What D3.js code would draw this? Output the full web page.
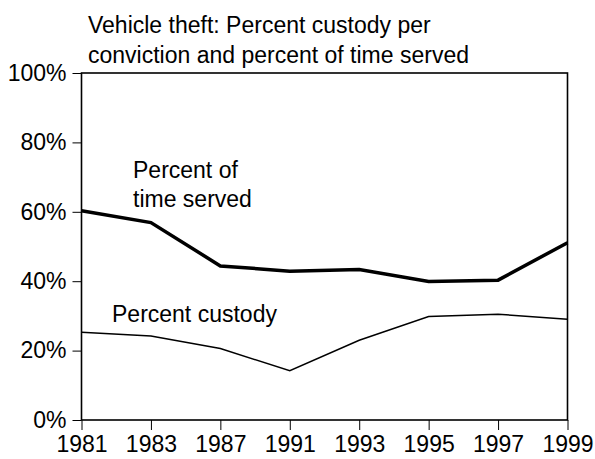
<!DOCTYPE html>
<html>
<head>
<meta charset="utf-8">
<script src="https://cdn.jsdelivr.net/npm/d3@7"></script>
<style>
  body { margin: 0; background: #fff; }
  text { font-family: "Liberation Sans", Arial, sans-serif; fill: #000; }
</style>
</head>
<body>
<div id="chart"></div>
<script>
var w = 595;
var h = 459;

var years = ["1981", "1983", "1987", "1991", "1993", "1995", "1997", "1999"];
var timeServed = [60.3, 56.9, 44.4, 42.9, 43.4, 39.9, 40.3, 51.1];
var custody = [25.3, 24.2, 20.6, 14.2, 23.0, 29.8, 30.5, 29.0];
var yTicks = [0, 20, 40, 60, 80, 100];

var plotLeft = 81.5, plotRight = 567.5, plotTop = 73, plotBottom = 420;
var fontSize = "23px";

var svg = d3.select("#chart")
  .append("svg")
  .attr("width", w)
  .attr("height", h);

// Scales
var xScale = d3.scalePoint()
  .domain(years)
  .range([plotLeft, plotRight]);

var yScale = d3.scaleLinear()
  .domain([0, 100])
  .range([plotBottom, plotTop]);

// Title
svg.append("text")
  .attr("x", 88).attr("y", 33)
  .style("font-size", fontSize)
  .text("Vehicle theft: Percent custody per");
svg.append("text")
  .attr("x", 88).attr("y", 63)
  .style("font-size", fontSize)
  .text("conviction and percent of time served");

// Axes
var yAxis = d3.axisLeft(yScale)
  .tickValues(yTicks)
  .tickSize(9)
  .tickPadding(6)
  .tickFormat(function (d) { return d + "%"; });

var xAxis = d3.axisBottom(xScale)
  .tickSize(10)
  .tickPadding(6);

var gy = svg.append("g")
  .attr("transform", "translate(" + plotLeft + ",0)")
  .call(yAxis);

var gx = svg.append("g")
  .attr("transform", "translate(0," + plotBottom + ")")
  .call(xAxis);

[gx, gy].forEach(function (g) {
  g.select(".domain").remove();
  g.selectAll("line").attr("stroke", "#000").attr("stroke-width", 1);
  g.selectAll("text")
    .style("font-size", fontSize)
    .style("font-family", "'Liberation Sans', Arial, sans-serif");
});

// Frame
svg.append("rect")
  .attr("x", plotLeft).attr("y", plotTop)
  .attr("width", plotRight - plotLeft).attr("height", plotBottom - plotTop)
  .attr("fill", "none")
  .attr("stroke", "#000")
  .attr("stroke-width", 1.6);

// Lines
var line = d3.line()
  .x(function (d, i) { return xScale(years[i]); })
  .y(function (d) { return yScale(d); });

svg.append("path")
  .datum(timeServed)
  .attr("d", line)
  .attr("fill", "none")
  .attr("stroke", "#000")
  .attr("stroke-width", 3.5);

svg.append("path")
  .datum(custody)
  .attr("d", line)
  .attr("fill", "none")
  .attr("stroke", "#000")
  .attr("stroke-width", 1.5);

// Labels
svg.append("text").attr("x", 133).attr("y", 178)
  .style("font-size", fontSize).text("Percent of");
svg.append("text").attr("x", 133).attr("y", 207)
  .style("font-size", fontSize).text("time served");
svg.append("text").attr("x", 112).attr("y", 322)
  .style("font-size", fontSize).text("Percent custody");
</script>
</body>
</html>
